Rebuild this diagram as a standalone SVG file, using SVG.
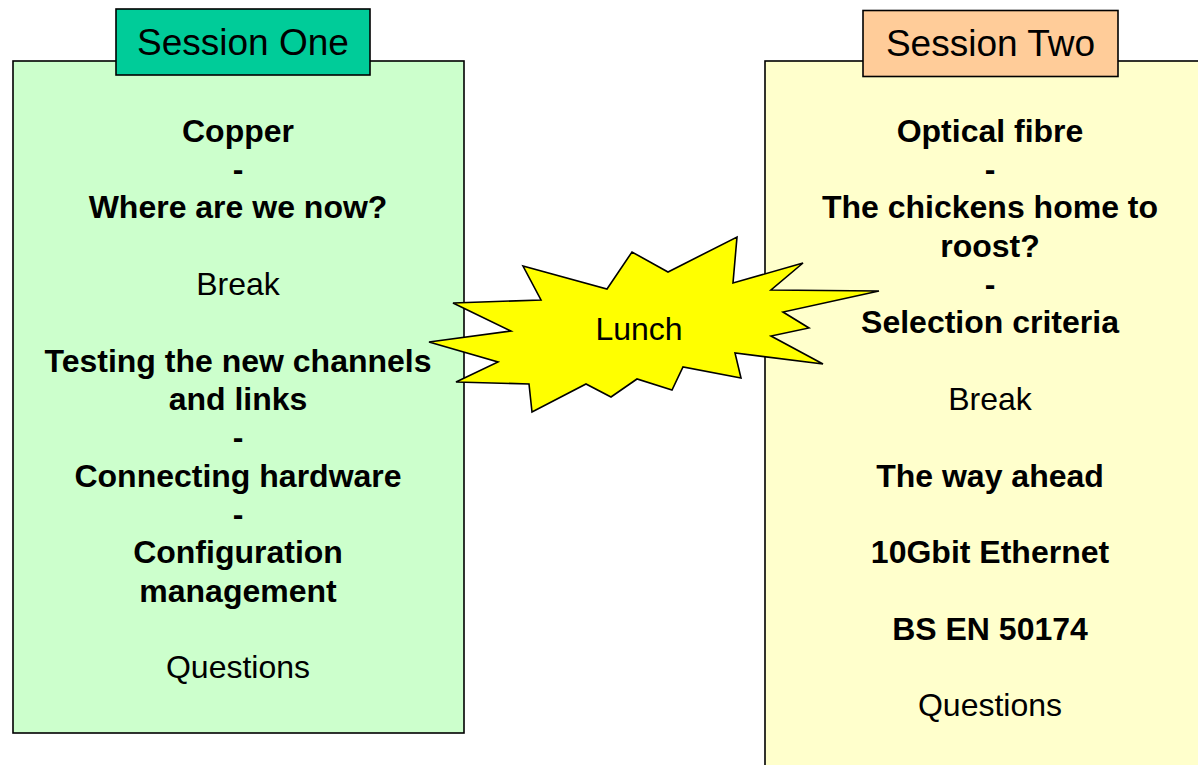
<svg xmlns="http://www.w3.org/2000/svg" width="1198" height="765" viewBox="0 0 1198 765">
  <style>
    .box { stroke: #000; stroke-width: 1.6; }
    .t { font-family: "Liberation Sans", Arial, sans-serif; font-size: 32px; fill: #000; text-anchor: middle; }
    .b { font-weight: bold; }
    .title { font-size: 37px; }
  </style>
  <rect width="1198" height="765" fill="#fff"/>

  <g id="session-one">
    <rect class="box" x="13" y="61" width="451" height="672" fill="#CCFFCC"/>
    <rect class="box" x="116" y="9" width="254" height="66" fill="#00CC99"/>
    <text class="t title" x="243" y="55">Session One</text>
    <text class="t b" x="238" y="141.5">Copper</text>
    <text class="t b" x="238" y="179.8">-</text>
    <text class="t b" x="238" y="218.2">Where are we now?</text>
    <text class="t" x="238" y="294.8">Break</text>
    <text class="t b" x="238" y="371.5">Testing the new channels</text>
    <text class="t b" x="238" y="409.8">and links</text>
    <text class="t b" x="238" y="448.2">-</text>
    <text class="t b" x="238" y="486.5">Connecting hardware</text>
    <text class="t b" x="238" y="524.8">-</text>
    <text class="t b" x="238" y="563.2">Configuration</text>
    <text class="t b" x="238" y="601.5">management</text>
    <text class="t" x="238" y="678.2">Questions</text>
  </g>

  <g id="session-two">
    <rect class="box" x="765" y="61" width="445" height="720" fill="#FFFFCC"/>
    <rect class="box" x="863" y="10.5" width="255" height="66" fill="#FFCC99"/>
    <text class="t title" x="990.5" y="56">Session Two</text>
    <text class="t b" x="990" y="141.5">Optical fibre</text>
    <text class="t b" x="990" y="179.8">-</text>
    <text class="t b" x="990" y="218.2">The chickens home to</text>
    <text class="t b" x="990" y="256.5">roost?</text>
    <text class="t b" x="990" y="294.8">-</text>
    <text class="t b" x="990" y="333.2">Selection criteria</text>
    <text class="t" x="990" y="409.8">Break</text>
    <text class="t b" x="990" y="486.5">The way ahead</text>
    <text class="t b" x="990" y="563.2">10Gbit Ethernet</text>
    <text class="t b" x="990" y="639.8">BS EN 50174</text>
    <text class="t" x="990" y="716.2">Questions</text>
  </g>

  <g id="lunch">
    <polygon class="box" fill="#FFFF00" points="453,303 541,300 523,266 607,289 632,252 668,272 737,237 733,283 803,263 771,290 879,291 783,312 809,328 771,336 823,364 735,353 741,378 683,367 672,390 637,379 611,397 586,384 532,412 529,384 456,382 498,362 429,342 511,331"/>
    <text class="t" x="639" y="340">Lunch</text>
  </g>

  <g id="connectors"></g>
</svg>
